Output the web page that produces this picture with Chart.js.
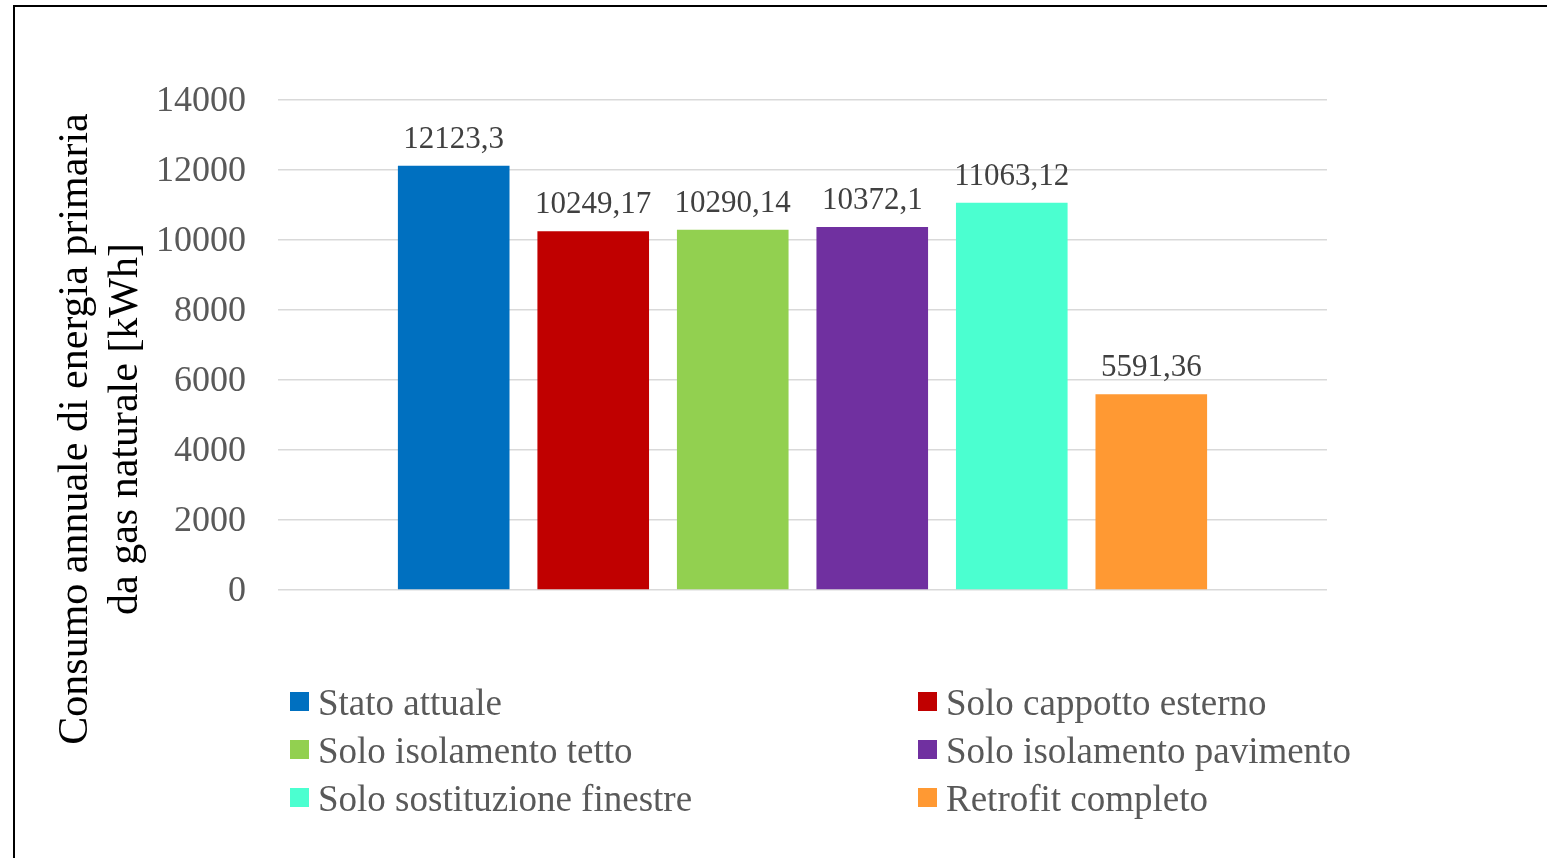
<!DOCTYPE html>
<html>
<head>
<meta charset="utf-8">
<script src="https://cdn.jsdelivr.net/npm/chart.js@4.4.1/dist/chart.umd.min.js"></script>
<style>
  html, body { margin: 0; padding: 0; background: #fff; overflow: hidden; }
  #wrap { position: relative; width: 1547px; height: 858px; }
  #c { position: absolute; left: 0; top: 0; }
  #frame { position: absolute; left: 13px; top: 5px; width: 2000px; height: 2000px;
           border: 2px solid #000; pointer-events: none; }
  #legend { position: absolute; left: 0; top: 0; width: 1547px; height: 858px; pointer-events: none;
            font-family: "Liberation Serif", "Times New Roman", serif; font-size: 37px; color: #595959; }
  .li { position: absolute; height: 48px; line-height: 48px; white-space: nowrap; }
  .li .box { position: absolute; left: 0; top: 13px; width: 19px; height: 19px; }
  .li .txt { position: absolute; left: 28px; top: 0; }
</style>
</head>
<body>
<div id="wrap">
  <canvas id="c" width="1547" height="858"></canvas>
  <div id="legend"></div>
  <div id="frame"></div>
</div>
<script>
// ---- data ----
const categories = [''];
const seriesNames = [
  'Stato attuale',
  'Solo cappotto esterno',
  'Solo isolamento tetto',
  'Solo isolamento pavimento',
  'Solo sostituzione finestre',
  'Retrofit completo'
];
const seriesValues = [12123.3, 10249.17, 10290.14, 10372.1, 11063.12, 5591.36];
const seriesColors = ['#0070C0', '#C00000', '#92D050', '#7030A0', '#4BFFD0', '#FF9933'];
const yTicks = [0, 2000, 4000, 6000, 8000, 10000, 12000, 14000];
const yTitleLines = ['Consumo annuale di energia primaria', 'da gas naturale [kWh]'];

const FONT = '"Liberation Serif", "Times New Roman", serif';

function fmt(v) { return String(v).replace('.', ','); }

const datasets = seriesNames.map((name, i) => ({
  label: name,
  data: [seriesValues[i]],
  backgroundColor: seriesColors[i],
  borderWidth: 0,
  categoryPercentage: 0.798,
  barPercentage: 0.8
}));

const valueLabels = {
  id: 'valueLabels',
  afterDatasetsDraw(chart) {
    const ctx = chart.ctx;
    ctx.save();
    ctx.font = '31px ' + FONT;
    ctx.fillStyle = '#404040';
    ctx.textAlign = 'center';
    ctx.textBaseline = 'alphabetic';
    chart.data.datasets.forEach((ds, di) => {
      const meta = chart.getDatasetMeta(di);
      meta.data.forEach((bar, j) => {
        ctx.fillText(fmt(ds.data[j]), bar.x, bar.y - 18);
      });
    });
    ctx.restore();
  }
};

const yTitle = {
  id: 'yTitle',
  afterDraw(chart) {
    const ctx = chart.ctx;
    ctx.save();
    ctx.font = '42px ' + FONT;
    ctx.fillStyle = '#000000';
    ctx.textAlign = 'center';
    ctx.textBaseline = 'alphabetic';
    ctx.translate(0, 429);
    ctx.rotate(-Math.PI / 2);
    ctx.fillText(yTitleLines[0], 0, 87);
    ctx.fillText(yTitleLines[1], 0, 137);
    ctx.restore();
  }
};

new Chart(document.getElementById('c'), {
  type: 'bar',
  data: { labels: categories, datasets },
  options: {
    responsive: false,
    animation: false,
    layout: { padding: { left: 0, right: 220, top: 100, bottom: 268 } },
    plugins: {
      legend: { display: false },
      tooltip: { enabled: false },
      title: { display: false }
    },
    scales: {
      x: {
        display: false,
        grid: { display: false }
      },
      y: {
        min: 0,
        max: 14000,
        afterBuildTicks(scale) { scale.ticks = yTicks.map(v => ({ value: v })); },
        afterFit(scale) { scale.width = 278; },
        border: { display: false },
        grid: { color: '#D9D9D9', lineWidth: 1.5, drawTicks: false },
        ticks: {
          padding: 32,
          labelOffset: 2,
          color: '#595959',
          font: { family: FONT, size: 36 },
          callback: (v) => String(v)
        },
        title: { display: false }
      }
    }
  },
  plugins: [valueLabels, yTitle]
});

// HTML legend in two columns built from the series arrays
const legendEl = document.getElementById('legend');
const colX = [290, 918];
const rowTop = [679, 727, 775];
seriesNames.forEach((name, i) => {
  const item = document.createElement('div');
  item.className = 'li';
  item.style.left = colX[i % 2] + 'px';
  item.style.top = rowTop[Math.floor(i / 2)] + 'px';
  const box = document.createElement('span');
  box.className = 'box';
  box.style.background = seriesColors[i];
  const txt = document.createElement('span');
  txt.className = 'txt';
  txt.textContent = name;
  item.appendChild(box);
  item.appendChild(txt);
  legendEl.appendChild(item);
});
</script>
</body>
</html>
